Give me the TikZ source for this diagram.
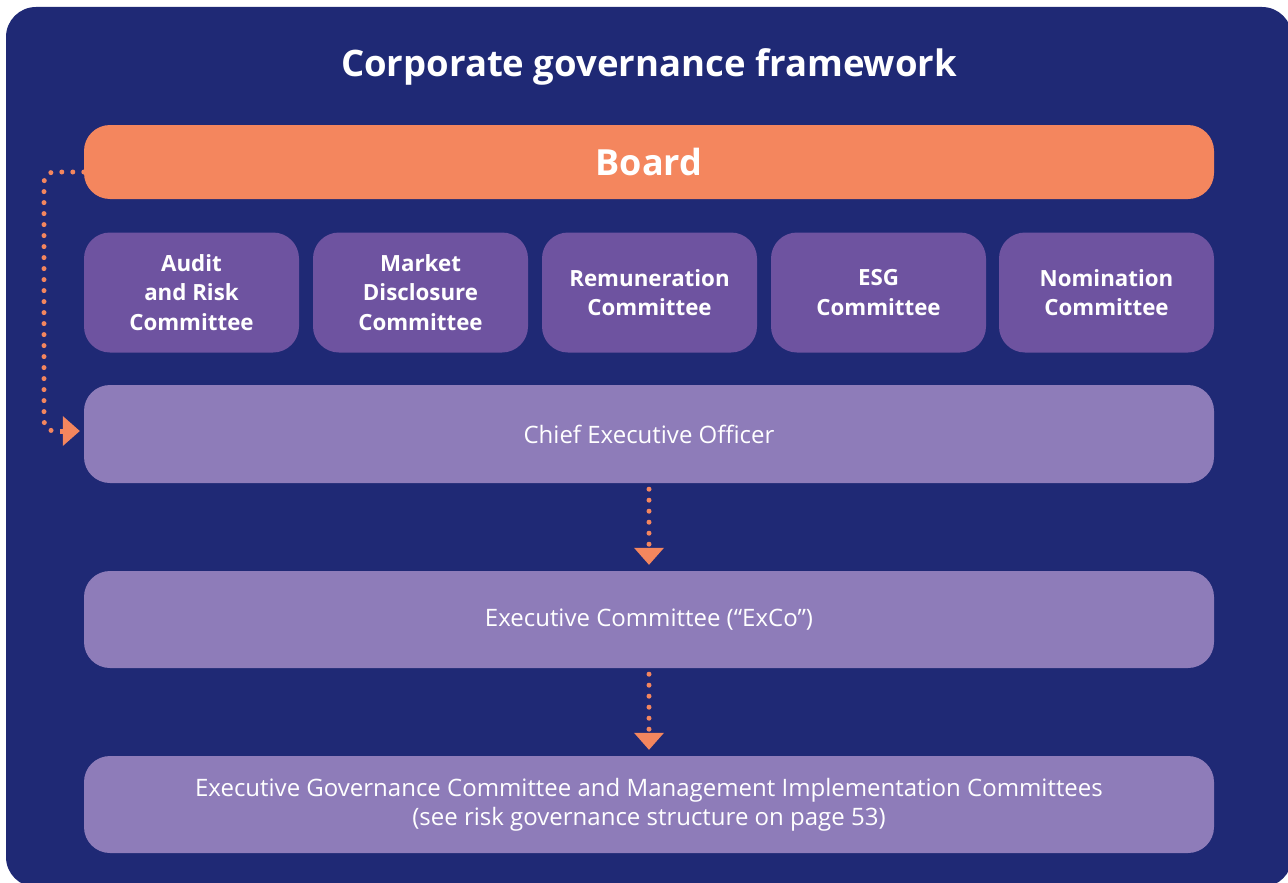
\documentclass[tikz,border=0pt]{standalone}
\usepackage{fontspec}
\setmainfont{Open Sans}
\usetikzlibrary{arrows.meta}
\definecolor{navy}{RGB}{31,41,117}
\definecolor{boardorange}{RGB}{244,134,94}
\definecolor{cmtpurple}{RGB}{110,83,160}
\definecolor{lightpurple}{RGB}{142,124,185}
\begin{document}
\begin{tikzpicture}[x=1pt,y=-1pt,
  box/.style={inner sep=0pt, rounded corners=26pt, align=center, text=white},
  widebox/.style={box, fill=lightpurple, minimum width=1130pt, minimum height=97pt,
    font=\fontsize{24}{29}\selectfont},
  cmtbox/.style={box, fill=cmtpurple, minimum width=215pt, minimum height=120pt,
    font=\fontsize{22.3}{29.5}\selectfont\bfseries},
  dotline/.style={draw=boardorange, line width=5pt, line cap=round,
    dash pattern=on 0pt off 11pt},
  tip/.style={draw=boardorange, line width=5pt,
    -{Triangle[width=30pt,length=17pt,line width=0pt]}},
  arrowline/.style={dotline, tip, dash pattern=on 0pt off 11pt}
]
\useasboundingbox (0,0) rectangle (1288,883);
% background panel
\fill[navy, rounded corners=30pt] (6,7) rectangle (1292,887);

\node[text=white, font=\fontsize{36.5}{40}\selectfont\bfseries] (title) at (649,67) {Corporate governance framework};

\node[box, fill=boardorange, minimum width=1130pt, minimum height=74pt,
  font=\fontsize{36}{40}\selectfont\bfseries] (board) at (649,162) {Board};

\node[cmtbox] (audit) at (191.5,292.5) {Audit\\and Risk\\Committee};
\node[cmtbox] (market) at (420.5,292.5) {Market\\Disclosure\\Committee};
\node[cmtbox] (remun) at (649.5,292.5) {Remuneration\\Committee};
\node[cmtbox] (esg) at (878.5,292.5) {ESG\\Committee};
\node[cmtbox] (nomin) at (1106.5,292.5) {Nomination\\Committee};

\node[widebox, minimum height=98pt] (ceo) at (649,434) {Chief Executive Officer};
\node[widebox] (exco) at (649,619.5) {Executive Committee (“ExCo”)};
\node[widebox] (egc) at (649,804.5) {Executive Governance Committee and Management Implementation Committees\\(see risk governance structure on page 53)};

% reporting lines
\coordinate (bend) at (44,431);
\coordinate (tipstart) at (60,431);
\draw[dotline, rounded corners=10pt]
  ([yshift=-10pt]board.west) -| (bend) -- (tipstart);
\path[tip] (tipstart) -- ([xshift=-4pt]ceo.west |- tipstart);
\draw[arrowline, shorten <=6pt, shorten >=6pt] (ceo.south) -- (exco.north);
\draw[arrowline, shorten <=6pt, shorten >=6pt] (exco.south) -- (egc.north);
\end{tikzpicture}
\end{document}
